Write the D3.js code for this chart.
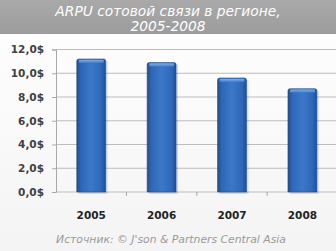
<!DOCTYPE html>
<html><head><meta charset="utf-8">
<script src="https://cdn.jsdelivr.net/npm/d3@7"></script>
<style>html,body{margin:0;padding:0;background:#fff;}svg{display:block;}</style>
</head><body>
<script>
const categories = ["2005", "2006", "2007", "2008"];
const values = [11.2, 10.9, 9.6, 8.7];
const yTicks = [0, 2, 4, 6, 8, 10, 12];
const titleLines = ["ARPU сотовой связи в регионе,", "2005-2008"];
const sourceText = "Источник: © J'son & Partners Central Asia";

const W = 336, H = 251;
const svg = d3.select("body").append("svg").attr("width", W).attr("height", H);
const defs = svg.append("defs");

const bg = defs.append("linearGradient").attr("id","bg").attr("x1",0).attr("y1",0).attr("x2",0).attr("y2",1);
bg.append("stop").attr("offset","0").attr("stop-color","#ffffff");
bg.append("stop").attr("offset","1").attr("stop-color","#f4f4f4");
svg.append("rect").attr("width",W).attr("height",H).attr("fill","url(#bg)");

const tg = defs.append("linearGradient").attr("id","tg").attr("x1",0).attr("y1",0).attr("x2",0).attr("y2",1);
tg.append("stop").attr("offset","0").attr("stop-color","#a9a9a9");
tg.append("stop").attr("offset","1").attr("stop-color","#9c9c9c");
svg.append("rect").attr("width",W).attr("height",34).attr("fill","url(#tg)");
svg.append("rect").attr("y",34).attr("width",W).attr("height",2).attr("fill","#ffffff");

const barG = defs.append("linearGradient").attr("id","barG").attr("x1",0).attr("y1",0).attr("x2",1).attr("y2",0);
barG.append("stop").attr("offset","0").attr("stop-color","#1e4e96");
barG.append("stop").attr("offset","0.15").attr("stop-color","#2f67b8");
barG.append("stop").attr("offset","0.5").attr("stop-color","#3b78c8");
barG.append("stop").attr("offset","0.85").attr("stop-color","#2f67b8");
barG.append("stop").attr("offset","1").attr("stop-color","#1e4e96");

const topG = defs.append("linearGradient").attr("id","topG").attr("x1",0).attr("y1",0).attr("x2",0).attr("y2",1);
topG.append("stop").attr("offset","0").attr("stop-color","#8fb8ea");
topG.append("stop").attr("offset","1").attr("stop-color","#4a86d2");

const m = {left:56, top:49.5, bottom:192};
const x = d3.scaleBand().domain(categories).range([m.left, m.left + 4*70.4]).paddingInner(0.59).paddingOuter(0.295);
const y = d3.scaleLinear().domain([0, 12]).range([m.bottom, m.top]);

// gridlines
svg.append("g").selectAll("line").data(yTicks).join("line")
  .attr("x1", m.left).attr("x2", W).attr("y1", d=>y(d)).attr("y2", d=>y(d))
  .attr("stroke","#bdbdbd").attr("stroke-width",1.2);

// y axis
const yAxis = d3.axisLeft(y).tickValues(yTicks).tickSize(4).tickPadding(8)
  .tickFormat(d => d3.format(".1f")(d).replace(".", ",") + "$");
const ya = svg.append("g").attr("transform",`translate(${m.left},0)`).call(yAxis);
ya.select(".domain").attr("stroke","#a8a8a8");
ya.selectAll(".tick line").attr("stroke","#a8a8a8");
ya.selectAll("text").attr("font-family","'DejaVu Sans', sans-serif").attr("font-size","10.5px")
  .attr("font-weight","bold").attr("fill","#404040");

// x ticks at category boundaries
const step = x.step();
const bounds = d3.range(1, categories.length).map(i => m.left + i*step);
svg.append("g").selectAll("line").data(bounds).join("line")
  .attr("x1", d=>d).attr("x2", d=>d).attr("y1", m.bottom).attr("y2", m.bottom+4)
  .attr("stroke","#a8a8a8");

// shadows
svg.append("g").selectAll("rect").data(values).join("rect")
  .attr("x",(d,i)=>x(categories[i])+2).attr("y",d=>y(d)+2)
  .attr("width",x.bandwidth()).attr("height",d=>m.bottom-y(d))
  .attr("fill","#000").attr("opacity",0.12);

// bars
const bars = svg.append("g");
bars.selectAll("path").data(values).join("path")
  .attr("d",(d,i)=>{
    const x0 = x(categories[i]), w = x.bandwidth(), y0 = y(d), r = 2;
    return `M${x0},${m.bottom}L${x0},${y0+r}Q${x0},${y0} ${x0+r},${y0}L${x0+w-r},${y0}Q${x0+w},${y0} ${x0+w},${y0+r}L${x0+w},${m.bottom}Z`;
  })
  .attr("fill","url(#barG)").attr("stroke","#1d4a8c").attr("stroke-width",0.6);
bars.selectAll("rect.top").data(values).join("rect").attr("class","top")
  .attr("x",(d,i)=>x(categories[i])+2).attr("y",d=>y(d)+0.8)
  .attr("width",x.bandwidth()-4).attr("height",3)
  .attr("fill","url(#topG)").attr("opacity",0.85);

// x labels
svg.append("g").selectAll("text").data(categories).join("text")
  .attr("x", d=>x(d)+x.bandwidth()/2).attr("y", 219)
  .attr("text-anchor","middle")
  .attr("font-family","'DejaVu Sans', sans-serif").attr("font-size","10.5px")
  .attr("font-weight","bold").attr("fill","#222").text(d=>d);

// title
svg.append("g").selectAll("text").data(titleLines).join("text")
  .attr("x", 168).attr("y",(d,i)=>15.5 + i*15)
  .attr("text-anchor","middle")
  .attr("font-family","'DejaVu Sans', sans-serif").attr("font-size","13.8px")
  .attr("font-style","italic").attr("fill","#ffffff").text(d=>d);

// source
svg.append("text").attr("x",171).attr("y",243).attr("text-anchor","middle")
  .attr("font-family","'DejaVu Sans', sans-serif").attr("font-size","10.8px")
  .attr("font-style","italic").attr("fill","#9a9a9a").text(sourceText);
</script>
</body></html>
